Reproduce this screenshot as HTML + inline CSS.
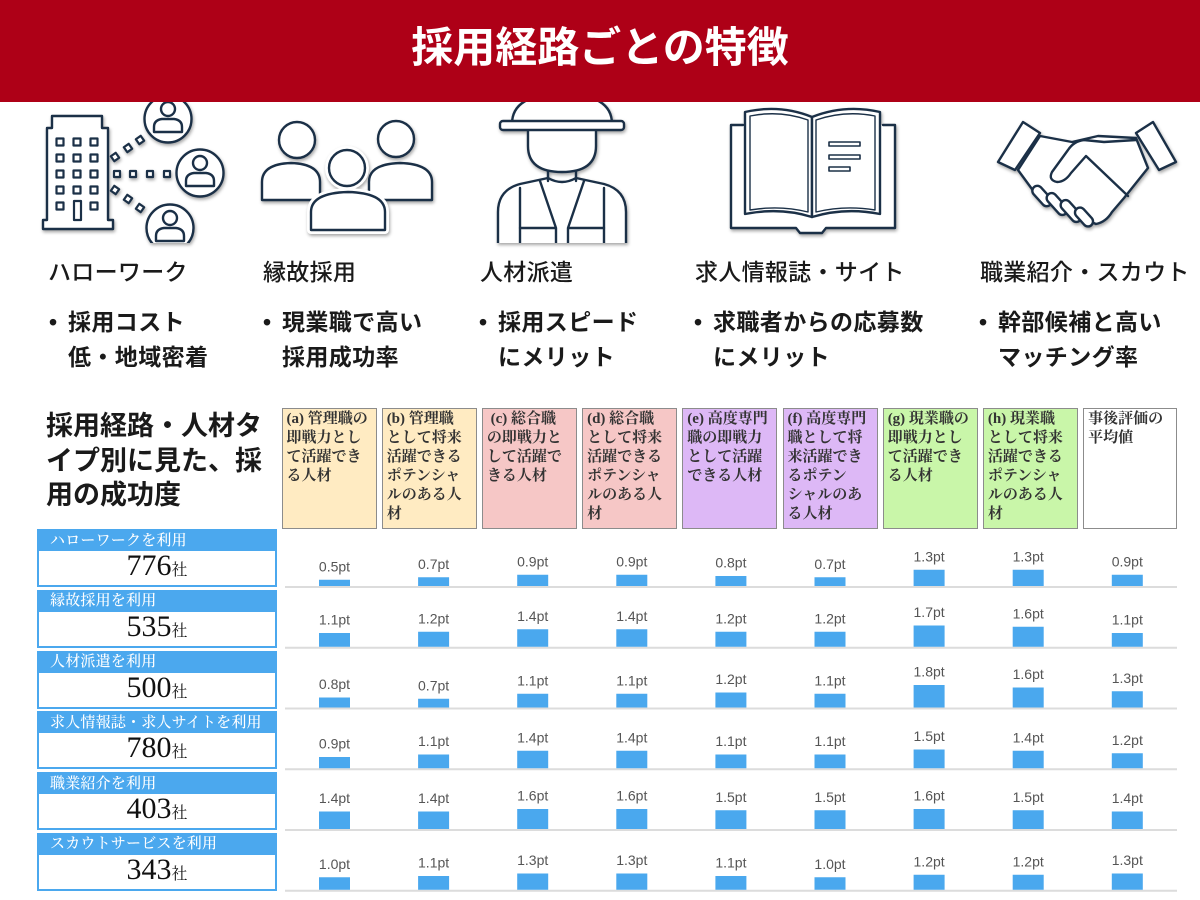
<!DOCTYPE html>
<html lang="ja">
<head>
<meta charset="utf-8">
<style>
  html,body{margin:0;padding:0;}
  body{width:1200px;height:900px;position:relative;overflow:hidden;background:#fff;
       font-family:"Liberation Sans","Noto Sans CJK JP",sans-serif;color:#1a1a1a;}
  .abs{position:absolute;}
  #hdr{left:0;top:0;width:1200px;height:102px;background:#ae0017;z-index:5;}
  #title{left:0;top:27px;width:1200px;text-align:center;color:#fff;font-size:42px;line-height:42px;font-weight:700;
         font-family:"Liberation Sans","Noto Sans CJK JP",sans-serif;}
  .lab{font-size:23px;line-height:26px;font-weight:500;white-space:nowrap;letter-spacing:0.3px;}
  .bul{font-size:23px;line-height:35px;font-weight:700;white-space:nowrap;letter-spacing:0.4px;}
  .dot{position:absolute;left:-19px;top:0;}
  #sect{left:46px;top:409px;font-size:27px;line-height:34.5px;font-weight:700;white-space:nowrap;}
  .ch{position:absolute;top:408px;width:95px;height:121px;box-sizing:border-box;border:1.5px solid #8c8c8c;
      font-family:"Liberation Serif","Noto Serif CJK SC",serif;font-size:15px;line-height:19px;font-weight:700;
      color:#333;padding:1px 0 0 4px;white-space:nowrap;}
  .y{background:#ffebc2;} .p{background:#f6c7c6;} .v{background:#ddb8f6;} .g{background:#c9f6a9;} .w{background:#fff;}
  .grp{position:absolute;left:37px;width:240px;height:58px;background:#4ba8ee;}
  .gh{position:absolute;left:13px;top:0.5px;height:22px;line-height:22px;color:#fff;font-size:15px;letter-spacing:0.2px;
      font-family:"Liberation Serif","Noto Serif CJK SC",serif;font-weight:500;white-space:nowrap;}
  .gw{position:absolute;left:2px;top:22px;width:236px;height:34px;background:#fff;}
  .gn{position:absolute;left:0;top:22px;width:240px;text-align:center;line-height:30px;font-size:30px;color:#111;
      font-family:"Liberation Serif","Noto Serif CJK SC",serif;}
  .gn span{font-size:16px;}
</style>
</head>
<body>

<div id="hdr" class="abs"></div>
<div id="title" class="abs" style="z-index:6;">採用経路ごとの特徴</div>

<!-- Icons -->
<svg class="abs" style="left:0;top:0;z-index:1;filter:drop-shadow(1px 2px 1.5px rgba(0,0,0,0.35));" width="1200" height="243" viewBox="0 0 1200 243">
  <g fill="#fff" stroke="#1b3047" stroke-width="2.4" stroke-linejoin="round" stroke-linecap="round">
    <!-- building -->
    <path d="M52,116 H102 V128 H108 V220 H113 V229 H43 V220 H47 V128 H52 Z"/>
    <g stroke-width="2.2">
      <rect x="56.5" y="138.5" width="7" height="7"/><rect x="73.5" y="138.5" width="7" height="7"/><rect x="90.5" y="138.5" width="7" height="7"/>
      <rect x="56.5" y="154.5" width="7" height="7"/><rect x="73.5" y="154.5" width="7" height="7"/><rect x="90.5" y="154.5" width="7" height="7"/>
      <rect x="56.5" y="170.5" width="7" height="7"/><rect x="73.5" y="170.5" width="7" height="7"/><rect x="90.5" y="170.5" width="7" height="7"/>
      <rect x="56.5" y="186.5" width="7" height="7"/><rect x="73.5" y="186.5" width="7" height="7"/><rect x="90.5" y="186.5" width="7" height="7"/>
      <rect x="56.5" y="202.5" width="7" height="7"/><rect x="90.5" y="202.5" width="7" height="7"/>
      <rect x="74" y="201" width="7" height="19"/>
      <rect x="112" y="154" width="6" height="6" transform="rotate(-35 115 157)"/>
      <rect x="125" y="145" width="6" height="6" transform="rotate(-35 128 148)"/>
      <rect x="137" y="137" width="6" height="6" transform="rotate(-35 140 140)"/>
      <rect x="114" y="171" width="6" height="6"/>
      <rect x="130" y="171" width="6" height="6"/>
      <rect x="147" y="171" width="6" height="6"/>
      <rect x="164" y="171" width="6" height="6"/>
      <rect x="112" y="187" width="6" height="6" transform="rotate(35 115 190)"/>
      <rect x="125" y="196" width="6" height="6" transform="rotate(35 128 199)"/>
      <rect x="137" y="205" width="6" height="6" transform="rotate(35 140 208)"/>
    </g>
    <g>
      <circle cx="168" cy="119" r="23.5"/>
      <circle cx="168" cy="109" r="7"/>
      <path d="M154,132 V127 Q154,120 162,119 H174 Q182,120 182,127 V132 Z"/>
      <circle cx="200" cy="173" r="23.5"/>
      <circle cx="200" cy="163" r="7"/>
      <path d="M186,186 V181 Q186,174 194,173 H206 Q214,174 214,181 V186 Z"/>
      <circle cx="170" cy="228" r="23.5"/>
      <circle cx="170" cy="218" r="7"/>
      <path d="M156,241 V236 Q156,229 164,228 H176 Q184,229 184,236 V241 Z"/>
    </g>

    <!-- group of people -->
    <path d="M262,200 V182 Q262,164 291,163 Q320,164 320,182 V200 Z"/>
    <circle cx="297" cy="140" r="18"/>
    <path d="M369,200 V182 Q369,164 400,163 Q432,164 432,182 V200 Z"/>
    <circle cx="396" cy="139" r="18"/>
    <g stroke="#fff" stroke-width="8">
      <path d="M311,230 V212 Q311,193 348,192 Q385,193 385,212 V230 Z"/>
      <circle cx="347" cy="168" r="18"/>
    </g>
    <path d="M311,230 V212 Q311,193 348,192 Q385,193 385,212 V230 Z"/>
    <circle cx="347" cy="168" r="18"/>

    <!-- worker -->
    <path d="M498,250 V212 Q498,190 520,184 L548,178 Q562,186 576,178 L604,184 Q626,190 626,212 V250 Z"/>
    <path d="M520,188 V250 M604,188 V250" fill="none"/>
    <path d="M540,181 L556,228 V250 M584,181 L568,228 V250 M520,228 H556 M568,228 H604" fill="none"/>
    <path d="M548,166 V181 M576,166 V181" fill="none"/>
    <path d="M528,128 V146 Q528,172 562,172 Q596,172 596,146 V128 Z"/>
    <path d="M512,124 Q512,94 562,94 Q612,94 612,124 Z"/>
    <rect x="500" y="121" width="124" height="9" rx="3"/>

    <!-- book -->
    <path d="M743,125 H731 V228 H796 L800,233 H822 L826,228 H895 V125 H883" />
    <path d="M812,117 Q780,104 745,112 V214 Q780,207 812,217 Z"/>
    <path d="M812,117 Q845,104 880,112 V214 Q845,207 812,217 Z"/>
    <path d="M750,116 Q780,110 808,120 V212 Q780,205 750,210 Z" stroke-width="1.4"/>
    <path d="M875,116 Q845,110 816,120 V212 Q845,205 875,210 Z" stroke-width="1.4"/>
    <rect x="829" y="142" width="31" height="4" stroke-width="1.6"/>
    <rect x="829" y="155" width="31" height="4" stroke-width="1.6"/>
    <rect x="829" y="167" width="21" height="4" stroke-width="1.6"/>

    <!-- handshake -->
    <path d="M1040,136 L1072,142 L1098,136 L1136,138 L1148,168 L1124,198 L1112,212 Q1106,222 1096,224 L1040,200 L1018,170 Z"/>
    <path d="M1136,140 L1104,142 L1084,140 Q1074,141 1068,150 L1052,172 Q1048,180 1057,182 Q1065,182 1071,173 L1086,156 L1128,196" fill="none"/>
    <g>
      <rect x="1030" y="191" width="24" height="10" rx="5" transform="rotate(48 1042 196)"/>
      <rect x="1044" y="199" width="26" height="10" rx="5" transform="rotate(48 1057 204)"/>
      <rect x="1058" y="206" width="26" height="10" rx="5" transform="rotate(48 1071 211)"/>
      <rect x="1073" y="212" width="22" height="10" rx="5" transform="rotate(48 1084 217)"/>
    </g>
    <path d="M998,162 L1023,122 L1040,133 L1015,170 Z"/>
    <path d="M1136,133 L1153,122 L1176,162 L1159,170 Z"/>
  </g>
</svg>

<!-- labels -->
<div class="abs lab" style="left:48px;top:259px;">ハローワーク</div>
<div class="abs lab" style="left:263px;top:259px;">縁故採用</div>
<div class="abs lab" style="left:480px;top:259px;">人材派遣</div>
<div class="abs lab" style="left:695px;top:259px;">求人情報誌・サイト</div>
<div class="abs lab" style="left:980px;top:259px;">職業紹介・スカウト</div>

<div class="abs bul" style="left:68px;top:305px;"><span class="dot">•</span>採用コスト<br>低・地域密着</div>
<div class="abs bul" style="left:282px;top:305px;"><span class="dot">•</span>現業職で高い<br>採用成功率</div>
<div class="abs bul" style="left:498px;top:305px;"><span class="dot">•</span>採用スピード<br>にメリット</div>
<div class="abs bul" style="left:713px;top:305px;"><span class="dot">•</span>求職者からの応募数<br>にメリット</div>
<div class="abs bul" style="left:998px;top:305px;"><span class="dot">•</span>幹部候補と高い<br>マッチング率</div>

<div id="sect" class="abs">採用経路・人材タ<br>イプ別に見た、採<br>用の成功度</div>

<!-- column headers -->
<div class="ch y" style="left:281.5px;">(a) 管理職の<br>即戦力とし<br>て活躍でき<br>る人材</div>
<div class="ch y" style="left:381.7px;">(b) 管理職<br>として将来<br>活躍できる<br>ポテンシャ<br>ルのある人<br>材</div>
<div class="ch p" style="left:481.9px;">&#8197;(c) 総合職<br>の即戦力と<br>して活躍で<br>きる人材</div>
<div class="ch p" style="left:582.1px;">(d) 総合職<br>として将来<br>活躍できる<br>ポテンシャ<br>ルのある人<br>材</div>
<div class="ch v" style="left:682.3px;">(e) 高度専門<br>職の即戦力<br>として活躍<br>できる人材</div>
<div class="ch v" style="left:782.5px;">(f) 高度専門<br>職として将<br>来活躍でき<br>るポテン<br>シャルのあ<br>る人材</div>
<div class="ch g" style="left:882.7px;">(g) 現業職の<br>即戦力とし<br>て活躍でき<br>る人材</div>
<div class="ch g" style="left:982.9px;">(h) 現業職<br>として将来<br>活躍できる<br>ポテンシャ<br>ルのある人<br>材</div>
<div class="ch w" style="left:1083.1px;width:94px;">事後評価の<br>平均値</div>

<!-- left groups -->
<div class="grp" style="top:529px;"><div class="gh">ハローワークを利用</div><div class="gw"></div><div class="gn">776<span>社</span></div></div>
<div class="grp" style="top:589.75px;"><div class="gh">縁故採用を利用</div><div class="gw"></div><div class="gn">535<span>社</span></div></div>
<div class="grp" style="top:650.5px;"><div class="gh">人材派遣を利用</div><div class="gw"></div><div class="gn">500<span>社</span></div></div>
<div class="grp" style="top:711.25px;"><div class="gh">求人情報誌・求人サイトを利用</div><div class="gw"></div><div class="gn">780<span>社</span></div></div>
<div class="grp" style="top:772px;"><div class="gh">職業紹介を利用</div><div class="gw"></div><div class="gn">403<span>社</span></div></div>
<div class="grp" style="top:832.75px;"><div class="gh">スカウトサービスを利用</div><div class="gw"></div><div class="gn">343<span>社</span></div></div>

<!-- bars -->
<svg class="abs" style="left:0;top:0;" width="1200" height="900" viewBox="0 0 1200 900">
  <g font-family="Liberation Sans, Arial, sans-serif" font-size="14" fill="#555" text-anchor="middle">
    <g transform="translate(0,586)">
      <rect x="285" y="0" width="892" height="2" fill="#dcdcdc"/>
      <g fill="#4aa8ee">
        <rect x="319" y="-6.25" width="31" height="6.25"/><rect x="418.1" y="-8.75" width="31" height="8.75"/><rect x="517.2" y="-11.25" width="31" height="11.25"/><rect x="616.3" y="-11.25" width="31" height="11.25"/><rect x="715.4" y="-10" width="31" height="10"/><rect x="814.5" y="-8.75" width="31" height="8.75"/><rect x="913.6" y="-16.25" width="31" height="16.25"/><rect x="1012.7" y="-16.25" width="31" height="16.25"/><rect x="1111.8" y="-11.25" width="31" height="11.25"/>
      </g>
      <text x="334.5" y="-14.75">0.5pt</text><text x="433.6" y="-17.25">0.7pt</text><text x="532.7" y="-19.75">0.9pt</text><text x="631.8" y="-19.75">0.9pt</text><text x="730.9" y="-18.5">0.8pt</text><text x="830" y="-17.25">0.7pt</text><text x="929.1" y="-24.75">1.3pt</text><text x="1028.2" y="-24.75">1.3pt</text><text x="1127.3" y="-19.75">0.9pt</text>
    </g>
    <g transform="translate(0,646.75)">
      <rect x="285" y="0" width="892" height="2" fill="#dcdcdc"/>
      <g fill="#4aa8ee">
        <rect x="319" y="-13.75" width="31" height="13.75"/><rect x="418.1" y="-15" width="31" height="15"/><rect x="517.2" y="-17.5" width="31" height="17.5"/><rect x="616.3" y="-17.5" width="31" height="17.5"/><rect x="715.4" y="-15" width="31" height="15"/><rect x="814.5" y="-15" width="31" height="15"/><rect x="913.6" y="-21.25" width="31" height="21.25"/><rect x="1012.7" y="-20" width="31" height="20"/><rect x="1111.8" y="-13.75" width="31" height="13.75"/>
      </g>
      <text x="334.5" y="-22.25">1.1pt</text><text x="433.6" y="-23.5">1.2pt</text><text x="532.7" y="-26">1.4pt</text><text x="631.8" y="-26">1.4pt</text><text x="730.9" y="-23.5">1.2pt</text><text x="830" y="-23.5">1.2pt</text><text x="929.1" y="-29.75">1.7pt</text><text x="1028.2" y="-28.5">1.6pt</text><text x="1127.3" y="-22.25">1.1pt</text>
    </g>
    <g transform="translate(0,707.5)">
      <rect x="285" y="0" width="892" height="2" fill="#dcdcdc"/>
      <g fill="#4aa8ee">
        <rect x="319" y="-10" width="31" height="10"/><rect x="418.1" y="-8.75" width="31" height="8.75"/><rect x="517.2" y="-13.75" width="31" height="13.75"/><rect x="616.3" y="-13.75" width="31" height="13.75"/><rect x="715.4" y="-15" width="31" height="15"/><rect x="814.5" y="-13.75" width="31" height="13.75"/><rect x="913.6" y="-22.5" width="31" height="22.5"/><rect x="1012.7" y="-20" width="31" height="20"/><rect x="1111.8" y="-16.25" width="31" height="16.25"/>
      </g>
      <text x="334.5" y="-18.5">0.8pt</text><text x="433.6" y="-17.25">0.7pt</text><text x="532.7" y="-22.25">1.1pt</text><text x="631.8" y="-22.25">1.1pt</text><text x="730.9" y="-23.5">1.2pt</text><text x="830" y="-22.25">1.1pt</text><text x="929.1" y="-31">1.8pt</text><text x="1028.2" y="-28.5">1.6pt</text><text x="1127.3" y="-24.75">1.3pt</text>
    </g>
    <g transform="translate(0,768.25)">
      <rect x="285" y="0" width="892" height="2" fill="#dcdcdc"/>
      <g fill="#4aa8ee">
        <rect x="319" y="-11.25" width="31" height="11.25"/><rect x="418.1" y="-13.75" width="31" height="13.75"/><rect x="517.2" y="-17.5" width="31" height="17.5"/><rect x="616.3" y="-17.5" width="31" height="17.5"/><rect x="715.4" y="-13.75" width="31" height="13.75"/><rect x="814.5" y="-13.75" width="31" height="13.75"/><rect x="913.6" y="-18.75" width="31" height="18.75"/><rect x="1012.7" y="-17.5" width="31" height="17.5"/><rect x="1111.8" y="-15" width="31" height="15"/>
      </g>
      <text x="334.5" y="-19.75">0.9pt</text><text x="433.6" y="-22.25">1.1pt</text><text x="532.7" y="-26">1.4pt</text><text x="631.8" y="-26">1.4pt</text><text x="730.9" y="-22.25">1.1pt</text><text x="830" y="-22.25">1.1pt</text><text x="929.1" y="-27.25">1.5pt</text><text x="1028.2" y="-26">1.4pt</text><text x="1127.3" y="-23.5">1.2pt</text>
    </g>
    <g transform="translate(0,829)">
      <rect x="285" y="0" width="892" height="2" fill="#dcdcdc"/>
      <g fill="#4aa8ee">
        <rect x="319" y="-17.5" width="31" height="17.5"/><rect x="418.1" y="-17.5" width="31" height="17.5"/><rect x="517.2" y="-20" width="31" height="20"/><rect x="616.3" y="-20" width="31" height="20"/><rect x="715.4" y="-18.75" width="31" height="18.75"/><rect x="814.5" y="-18.75" width="31" height="18.75"/><rect x="913.6" y="-20" width="31" height="20"/><rect x="1012.7" y="-18.75" width="31" height="18.75"/><rect x="1111.8" y="-17.5" width="31" height="17.5"/>
      </g>
      <text x="334.5" y="-26">1.4pt</text><text x="433.6" y="-26">1.4pt</text><text x="532.7" y="-28.5">1.6pt</text><text x="631.8" y="-28.5">1.6pt</text><text x="730.9" y="-27.25">1.5pt</text><text x="830" y="-27.25">1.5pt</text><text x="929.1" y="-28.5">1.6pt</text><text x="1028.2" y="-27.25">1.5pt</text><text x="1127.3" y="-26">1.4pt</text>
    </g>
    <g transform="translate(0,889.75)">
      <rect x="285" y="0" width="892" height="2" fill="#dcdcdc"/>
      <g fill="#4aa8ee">
        <rect x="319" y="-12.5" width="31" height="12.5"/><rect x="418.1" y="-13.75" width="31" height="13.75"/><rect x="517.2" y="-16.25" width="31" height="16.25"/><rect x="616.3" y="-16.25" width="31" height="16.25"/><rect x="715.4" y="-13.75" width="31" height="13.75"/><rect x="814.5" y="-12.5" width="31" height="12.5"/><rect x="913.6" y="-15" width="31" height="15"/><rect x="1012.7" y="-15" width="31" height="15"/><rect x="1111.8" y="-16.25" width="31" height="16.25"/>
      </g>
      <text x="334.5" y="-21">1.0pt</text><text x="433.6" y="-22.25">1.1pt</text><text x="532.7" y="-24.75">1.3pt</text><text x="631.8" y="-24.75">1.3pt</text><text x="730.9" y="-22.25">1.1pt</text><text x="830" y="-21">1.0pt</text><text x="929.1" y="-23.5">1.2pt</text><text x="1028.2" y="-23.5">1.2pt</text><text x="1127.3" y="-24.75">1.3pt</text>
    </g>
  </g>
</svg>

</body>
</html>
